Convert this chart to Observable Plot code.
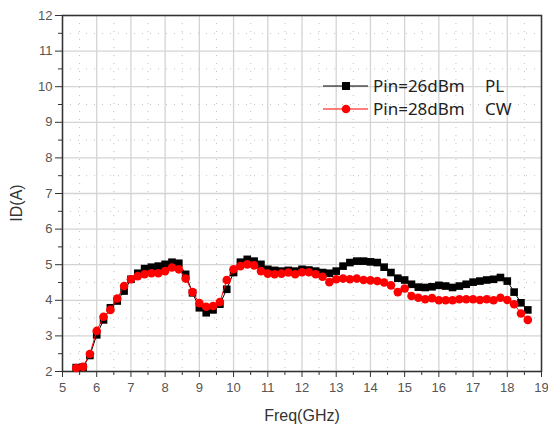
<!DOCTYPE html>
<html>
<head>
<meta charset="utf-8">
<script src="https://cdn.jsdelivr.net/npm/d3@7"></script>
<script src="https://cdn.jsdelivr.net/npm/@observablehq/plot@0.6"></script>
<style>
  html, body { margin: 0; padding: 0; background: #fff; }
  #wrap { position: relative; width: 548px; height: 429px; }
  #legend { position: absolute; left: 320px; top: 74px; font-family: "Noto Sans", sans-serif; font-size: 17px; color: #222; }
  #legend .row { position: relative; height: 23px; }
  #legend svg { position: absolute; left: 0; top: 0; }
  #legend .t1 { position: absolute; left: 53px; top: 0; line-height: 23px; }
  #legend .t2 { position: absolute; left: 165px; top: 0; line-height: 23px; }
</style>
</head>
<body>
<div id="wrap"></div>
<script>
const freq = [5.4,5.6,5.8,6.0,6.2,6.4,6.6,6.8,7.0,7.2,7.4,7.6,7.8,8.0,8.2,8.4,8.6,8.8,9.0,9.2,9.4,9.6,9.8,10.0,10.2,10.4,10.6,10.8,11.0,11.2,11.4,11.6,11.8,12.0,12.2,12.4,12.6,12.8,13.0,13.2,13.4,13.6,13.8,14.0,14.2,14.4,14.6,14.8,15.0,15.2,15.4,15.6,15.8,16.0,16.2,16.4,16.6,16.8,17.0,17.2,17.4,17.6,17.8,18.0,18.2,18.4,18.6];
const idPL = [2.11,2.12,2.45,3.03,3.45,3.79,3.98,4.26,4.59,4.76,4.89,4.93,4.96,5.01,5.07,5.04,4.73,4.21,3.79,3.65,3.73,3.89,4.31,4.78,5.07,5.15,5.10,5.01,4.87,4.84,4.82,4.84,4.82,4.87,4.85,4.82,4.78,4.76,4.82,4.96,5.06,5.10,5.10,5.08,5.06,4.93,4.78,4.62,4.57,4.45,4.37,4.36,4.38,4.42,4.40,4.36,4.40,4.45,4.51,4.54,4.57,4.59,4.64,4.54,4.23,3.93,3.73];
const idCW = [2.10,2.13,2.49,3.14,3.54,3.73,4.05,4.40,4.59,4.68,4.73,4.76,4.76,4.82,4.92,4.87,4.61,4.23,3.92,3.82,3.84,3.95,4.57,4.87,4.96,5.01,4.98,4.82,4.75,4.73,4.75,4.78,4.73,4.79,4.79,4.73,4.66,4.51,4.59,4.61,4.59,4.61,4.57,4.56,4.54,4.50,4.42,4.23,4.33,4.12,4.07,4.03,4.06,4.00,4.00,4.00,4.03,4.03,4.03,4.01,4.03,4.00,4.07,4.01,3.89,3.63,3.45];
const seriesNames = ["Pin=26dBm", "Pin=28dBm"];
const seriesTags = ["PL", "CW"];
const xTicks = d3.range(5, 20, 1);
const yTicks = d3.range(2, 13, 1);
const xMinor = d3.range(5.5, 19, 1);
const yMinor = d3.range(2.5, 12, 1);

const pl = freq.map((f, i) => ({f, v: idPL[i]}));
const cw = freq.map((f, i) => ({f, v: idCW[i]}));

const font = "'Liberation Sans', Arial, sans-serif";
const chart = Plot.plot({
  width: 548, height: 429,
  marginLeft: 62, marginRight: 7, marginTop: 15, marginBottom: 58,
  style: {fontFamily: font, fontSize: "13px", color: "#444", background: "#fff"},
  x: {domain: [5, 19], label: null},
  y: {domain: [2, 12], label: null},
  marks: [
    Plot.gridX(xMinor, {stroke: "#aaa", strokeOpacity: 0.7, strokeDasharray: "1,7"}),
    Plot.gridY(yMinor, {stroke: "#aaa", strokeOpacity: 0.7, strokeDasharray: "1,7"}),
    Plot.gridX(xTicks, {stroke: "#d4d4d4", strokeOpacity: 1, strokeWidth: 1.3}),
    Plot.gridY(yTicks, {stroke: "#d4d4d4", strokeOpacity: 1, strokeWidth: 1.3}),
    Plot.axisX({ticks: xTicks, tickSize: 6, tickPadding: 5, stroke: "#333", fontSize: 13, fill: "#555"}),
    Plot.axisX({ticks: xMinor, tickSize: 4, tickFormat: () => "", stroke: "#333"}),
    Plot.axisY({ticks: yTicks, tickSize: 7, tickPadding: 3, stroke: "#333", fontSize: 13, fill: "#555"}),
    Plot.axisY({ticks: yMinor, tickSize: 4, tickFormat: () => "", stroke: "#333"}),
    Plot.frame({stroke: "#333", strokeWidth: 1.5}),
    Plot.line(pl, {x: "f", y: "v", stroke: "#000", strokeWidth: 1}),
    Plot.dot(pl, {x: "f", y: "v", symbol: "square", r: 4.3, fill: "#000", stroke: "none"}),
    Plot.line(cw, {x: "f", y: "v", stroke: "#ff0000", strokeWidth: 1}),
    Plot.dot(cw, {x: "f", y: "v", symbol: "circle", r: 4.3, fill: "#ff0000", stroke: "none"})
  ]
});

const wrap = document.getElementById("wrap");
wrap.appendChild(chart);

// axis titles
const ns = "http://www.w3.org/2000/svg";
function addText(txt, x, y, rot) {
  const t = document.createElementNS(ns, "text");
  t.textContent = txt;
  t.setAttribute("x", x); t.setAttribute("y", y);
  t.setAttribute("text-anchor", "middle");
  t.setAttribute("dominant-baseline", "central");
  t.setAttribute("font-family", font);
  t.setAttribute("font-size", "16");
  t.setAttribute("fill", "#333");
  if (rot) t.setAttribute("transform", `rotate(-90 ${x} ${y})`);
  chart.appendChild(t);
}
addText("Freq(GHz)", 302, 415, false);
addText("ID(A)", 16, 203, true);

// legend
const legend = document.createElement("div");
legend.id = "legend";
const colors = ["#000", "#ff0000"];
seriesNames.forEach((name, i) => {
  const row = document.createElement("div");
  row.className = "row";
  const sym = i === 0
    ? `<rect x="22" y="8" width="8" height="8" fill="#000"/>`
    : `<circle cx="26" cy="12" r="4.3" fill="#ff0000"/>`;
  row.innerHTML = `<svg width="50" height="23"><line x1="3" x2="48" y1="12" y2="12" stroke="${colors[i]}" stroke-width="1.2"/>${sym}</svg><span class="t1">${name}</span><span class="t2">${seriesTags[i]}</span>`;
  legend.appendChild(row);
});
wrap.appendChild(legend);
</script>
</body>
</html>
